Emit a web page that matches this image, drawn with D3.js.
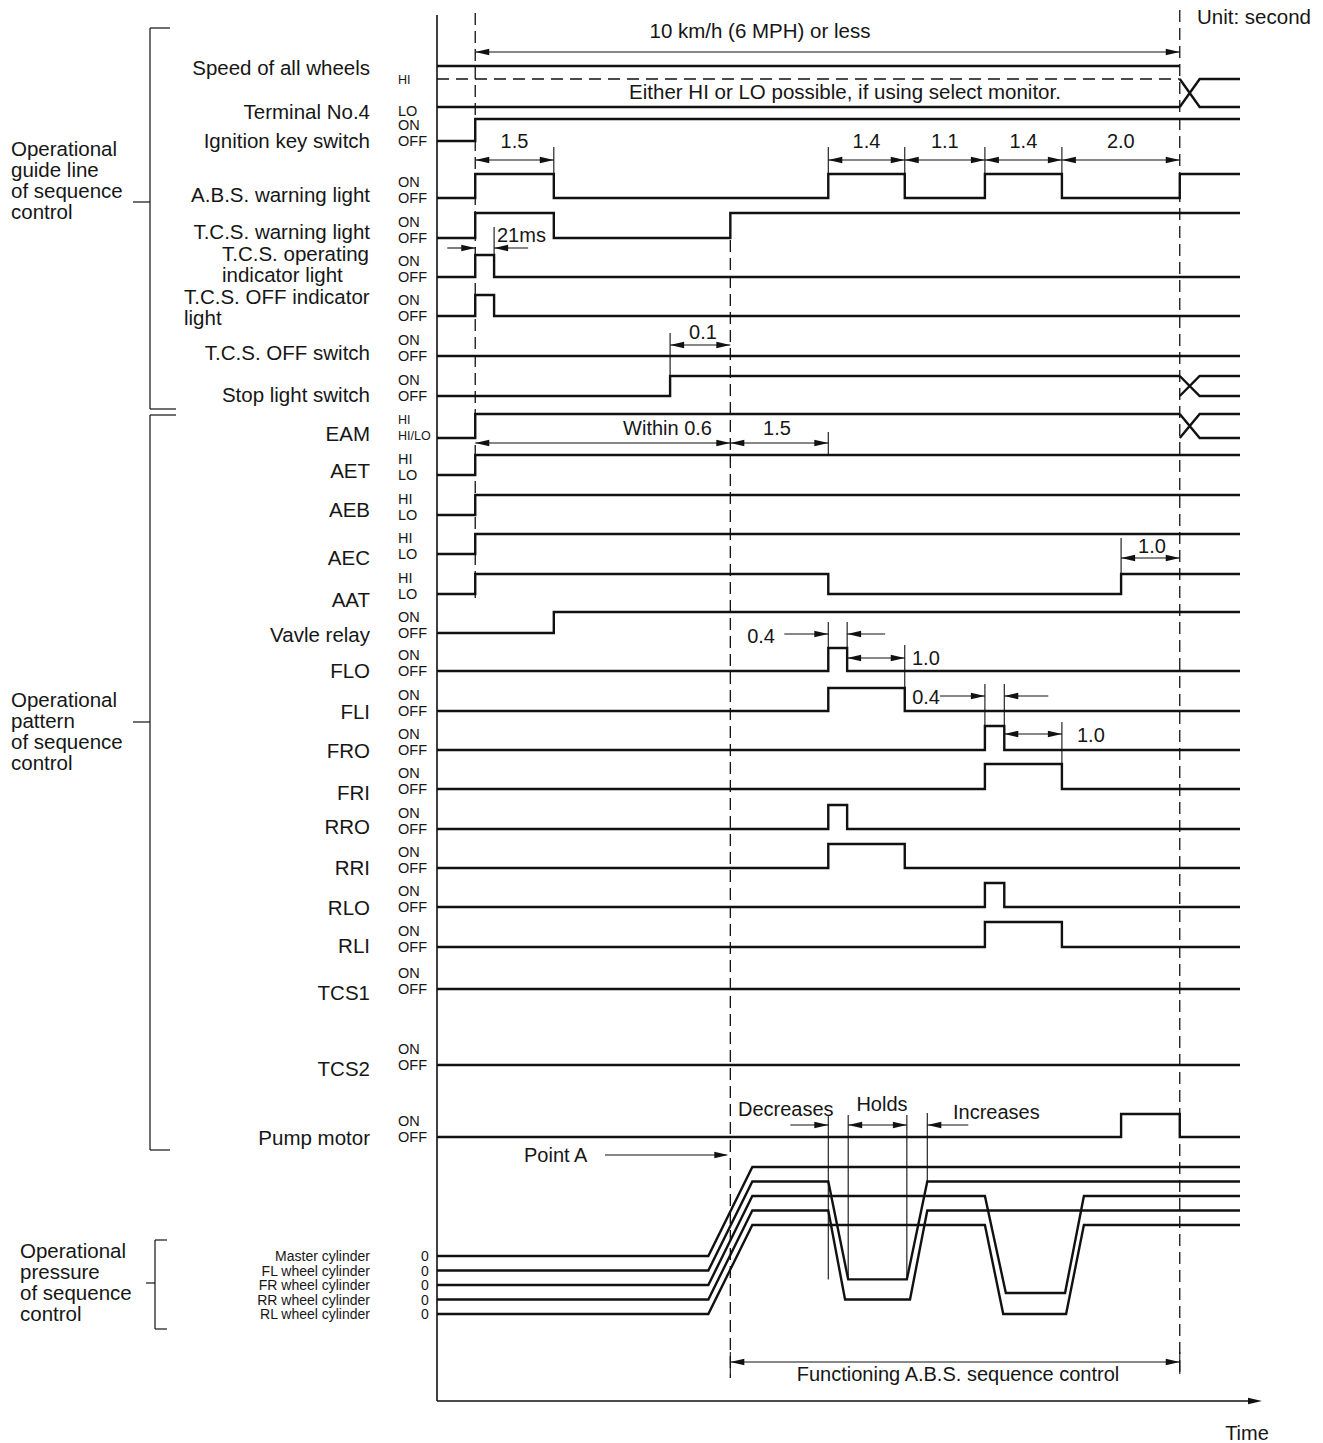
<!DOCTYPE html>
<html>
<head>
<meta charset="utf-8">
<script src="https://cdn.jsdelivr.net/npm/d3@7"></script>
<style>
  body { margin: 0; background: #fff; }
  text { font-family: "Liberation Sans", Arial, sans-serif; fill: #161616; }
</style>
</head>
<body>
<script>
// time is schematic (the drawing is not to scale)
var tStart = -0.73, tEnd = 14.6, tCut = 13.45, tCross = 13.83, tPointA = 4.87;

var rowLabels = ["Ignition key switch", "A.B.S. warning light", "T.C.S. warning light",
  "T.C.S. operating|indicator light", "T.C.S. OFF indicator|light", "T.C.S. OFF switch",
  "Stop light switch", "EAM", "AET", "AEB", "AEC", "AAT", "Vavle relay", "FLO", "FLI",
  "FRO", "FRI", "RRO", "RRI", "RLO", "RLI", "TCS1", "TCS2", "Pump motor"];
var rowStates = [["ON", "OFF"], ["ON", "OFF"], ["ON", "OFF"], ["ON", "OFF"], ["ON", "OFF"],
  ["ON", "OFF"], ["ON", "OFF"], ["HI", "HI/LO"], ["HI", "LO"], ["HI", "LO"], ["HI", "LO"],
  ["HI", "LO"], ["ON", "OFF"], ["ON", "OFF"], ["ON", "OFF"], ["ON", "OFF"], ["ON", "OFF"],
  ["ON", "OFF"], ["ON", "OFF"], ["ON", "OFF"], ["ON", "OFF"], ["ON", "OFF"], ["ON", "OFF"],
  ["ON", "OFF"]];
// times where each signal toggles (all start OFF / LO)
var rowEdges = [[0], [0, 1.5, 6.74, 8.2, 9.73, 11.2, 13.45], [0, 1.5, 4.87], [0, 0.36], [0, 0.36],
  [], [3.72], [0], [0], [0], [0], [0, 6.74, 12.33], [1.5], [6.74, 7.1], [6.74, 8.2],
  [9.73, 10.1], [9.73, 11.2], [6.74, 7.1], [6.74, 8.2], [9.73, 10.1], [9.73, 11.2], [], [],
  [12.33, 13.45]];
// signals that become "either" after the monitor point
var rowCrossed = ["Stop light switch", "EAM"];

var pressureNames = ["Master cylinder", "FL wheel cylinder", "FR wheel cylinder",
  "RR wheel cylinder", "RL wheel cylinder"];
var pressureSeries = [
  [[tStart, 0], [4.45, 0], [5.29, 10], [tEnd, 10]],
  [[tStart, 0], [4.45, 0], [5.29, 10], [6.74, 10], [7.12, -1], [8.24, -1], [8.63, 10], [tEnd, 10]],
  [[tStart, 0], [4.45, 0], [5.29, 10], [9.73, 10], [10.13, -0.9], [11.26, -0.9], [11.62, 10], [tEnd, 10]],
  [[tStart, 0], [4.45, 0], [5.29, 10], [6.74, 10], [7.06, 0], [8.3, 0], [8.63, 10], [tEnd, 10]],
  [[tStart, 0], [4.45, 0], [5.29, 10], [9.73, 10], [10.08, 0], [11.28, 0], [11.62, 10], [tEnd, 10]]
];

// layout of the lanes (OFF level, height of ON step, label centre)
var laneLo = [141, 198, 238, 277, 316, 356, 396, 438, 475, 515, 554, 594, 633, 671, 711, 750,
  789, 829, 868, 907, 947, 989, 1065, 1137];
var laneAmp = [22, 24, 25, 22, 21, 20, 20, 24, 20, 20, 20, 20, 21, 23, 23, 24, 25, 24, 24, 24,
  25, 20, 20, 23];
var labelY = [140, 194, 231, 253, 296, 352, 394, 433, 470, 509, 557, 599, 634, 670, 711, 750,
  792, 826, 867, 907, 945, 992, 1068, 1137];

var w = 1323, h = 1443;
var svg = d3.select("body").append("svg").attr("width", w).attr("height", h);

var x = d3.scaleLinear().domain([tStart, tEnd]).range([437, 1240]);
var pY = d3.scaleLinear().domain([0, 10]).range([0, -89]);
var pBase = d3.scaleLinear().domain([0, pressureNames.length - 1]).range([1256, 1314]);

var ink = "#111";

function line(g, x1, y1, x2, y2, sw, dash) {
  var l = g.append("line").attr("x1", x1).attr("y1", y1).attr("x2", x2).attr("y2", y2)
    .attr("stroke", ink).attr("stroke-width", sw);
  if (dash) l.attr("stroke-dasharray", dash);
  return l;
}
function label(g, tx, ty, str, size, anchor) {
  return g.append("text").attr("x", tx).attr("y", ty).attr("font-size", size)
    .attr("text-anchor", anchor || "start").attr("dominant-baseline", "central").text(str);
}
function head(g, xt, y, dir) {
  g.append("path")
    .attr("d", "M" + xt + "," + y + "L" + (xt - dir * 14) + "," + (y - 3.2) + "L" + (xt - dir * 14) + "," + (y + 3.2) + "Z")
    .attr("fill", ink);
}
// |<---->| arrows inside
function dimIn(g, t1, t2, y) {
  line(g, x(t1), y, x(t2), y, 1.1);
  head(g, x(t1), y, -1);
  head(g, x(t2), y, 1);
}
// -->| |<-- arrows from outside
function dimOut(g, t1, t2, y, l1, l2) {
  line(g, x(t1) - l1, y, x(t1), y, 1.1);
  head(g, x(t1), y, 1);
  line(g, x(t2), y, x(t2) + l2, y, 1.1);
  head(g, x(t2), y, -1);
}
function ext(g, t, y1, y2) { line(g, x(t), y1, x(t), y2, 1.1); }

var guides = svg.append("g");
var marks = svg.append("g");
var notes = svg.append("g");

// axes
line(guides, 437, 15, 437, 1401, 1.6);
line(guides, 437, 1401, 1248, 1401, 1.4);
head(guides, 1262, 1401, 1);
label(notes, 1247, 1433, "Time", 20, "middle");
label(notes, 1197, 16, "Unit: second", 20.5);

// dashed time markers
line(guides, x(0), 13, x(0), 598, 1.3, "12,6");
line(guides, x(tPointA), 240, x(tPointA), 1378, 1.3, "12,6");
line(guides, x(tCut), 10, x(tCut), 1378, 1.3, "12,6");

// speed of all wheels and terminal 4
line(marks, x(tStart), 66, x(tCut), 66, 2.4);
label(notes, 370, 67, "Speed of all wheels", 20.5, "end");
dimIn(notes, 0, tCut, 52);
label(notes, 760, 30, "10 km/h (6 MPH) or less", 20.5, "middle");

line(marks, x(tStart), 79, x(tCut), 79, 1.5, "12,7");
line(marks, x(tStart), 107, x(tCut), 107, 2.4);
label(notes, 845, 91, "Either HI or LO possible, if using select monitor.", 20.5, "middle");
label(notes, 370, 111, "Terminal No.4", 20.5, "end");
label(notes, 398, 80, "HI", 12.5);
label(notes, 398, 111, "LO", 14.5);

function crossAt(hiY, loY) {
  var p = "M" + x(tCut) + "," + hiY + "L" + x(tCross) + "," + loY + "L" + x(tEnd) + "," + loY +
    "M" + x(tCut) + "," + loY + "L" + x(tCross) + "," + hiY + "L" + x(tEnd) + "," + hiY;
  marks.append("path").attr("d", p).attr("fill", "none").attr("stroke", ink).attr("stroke-width", 2.4);
}
crossAt(79, 107);

// digital signals
var step = d3.line().curve(d3.curveStepAfter)
  .x(function(d) { return x(d[0]); })
  .y(function(d) { return d[1]; });

rowLabels.forEach(function(name, i) {
  var lo = laneLo[i], hi = lo - laneAmp[i];
  var crossed = rowCrossed.indexOf(name) >= 0;
  var pts = [[tStart, lo]];
  var on = false;
  rowEdges[i].forEach(function(t) {
    on = !on;
    pts.push([t, on ? hi : lo]);
  });
  pts.push([crossed ? tCut : tEnd, on ? hi : lo]);
  marks.append("path").attr("d", step(pts)).attr("fill", "none")
    .attr("stroke", ink).attr("stroke-width", 2.4);
  if (crossed) crossAt(hi, lo);

  var parts = name.split("|");
  if (parts.length > 1) {
    var lx = name.indexOf("OFF") >= 0 ? 184 : 222;
    label(notes, lx, labelY[i], parts[0], 20.5);
    label(notes, lx, labelY[i] + 21, parts[1], 20.5);
  } else {
    label(notes, 370, labelY[i], name, 20.5, "end");
  }
  var small = rowStates[i][1] === "HI/LO";
  label(notes, 398, lo - (small ? 18 : 16), rowStates[i][0], small ? 12.5 : 14.5);
  label(notes, 398, lo - (small ? 2 : 0), rowStates[i][1], small ? 12.5 : 14.5);
});

// dimensions on the A.B.S. warning light
var absDims = [[0, 1.5, "1.5"], [6.74, 8.2, "1.4"], [8.2, 9.73, "1.1"], [9.73, 11.2, "1.4"], [11.2, 13.45, "2.0"]];
absDims.forEach(function(d) {
  dimIn(notes, d[0], d[1], 160);
  label(notes, (x(d[0]) + x(d[1])) / 2, 141, d[2], 20, "middle");
});
[1.5, 6.74, 8.2, 9.73, 11.2].forEach(function(t) { ext(notes, t, 147, t === 6.74 || t === 9.73 ? 174 : 198); });

// 21ms
dimOut(notes, 0, 0.36, 248, 28, 34);
ext(notes, 0.36, 227, 262);
label(notes, 497, 235, "21ms", 20);

// 0.1
dimIn(notes, 3.72, tPointA, 345);
ext(notes, 3.72, 333, 376);
label(notes, 703, 332, "0.1", 20, "middle");

// within 0.6 / 1.5
dimIn(notes, 0, tPointA, 443);
label(notes, 712, 428, "Within 0.6", 20, "end");
dimIn(notes, tPointA, 6.74, 443);
ext(notes, 6.74, 432, 455);
label(notes, 777, 428, "1.5", 20, "middle");

// AAT 1.0
dimIn(notes, 12.33, tCut, 558);
ext(notes, 12.33, 538, 574);
label(notes, 1152, 546, "1.0", 20, "middle");

// FLO / FLI
dimOut(notes, 6.74, 7.1, 634, 44, 38);
ext(notes, 6.74, 622, 648);
ext(notes, 7.1, 622, 648);
label(notes, 775, 636, "0.4", 20, "end");
dimIn(notes, 7.1, 8.2, 658);
ext(notes, 8.2, 645, 688);
label(notes, 912, 658, "1.0", 20);

// FRO / FRI
dimOut(notes, 9.73, 10.1, 696, 45, 44);
ext(notes, 9.73, 684, 726);
ext(notes, 10.1, 684, 726);
label(notes, 940, 697, "0.4", 20, "end");
dimIn(notes, 10.1, 11.2, 734);
ext(notes, 11.2, 722, 764);
label(notes, 1077, 735, "1.0", 20);

// pressure
var pLine = d3.line()
  .x(function(d) { return x(d[0]); });
pressureSeries.forEach(function(s, i) {
  pLine.y(function(d) { return pBase(i) + pY(d[1]); });
  marks.append("path").attr("d", pLine(s)).attr("fill", "none")
    .attr("stroke", ink).attr("stroke-width", 2.4).attr("stroke-linejoin", "miter");
  label(notes, 370, pBase(i), pressureNames[i], 14, "end");
  label(notes, 425, pBase(i), "0", 14, "middle");
});

// decreases / holds / increases
[6.74, 7.12, 8.24].forEach(function(t) { ext(notes, t, 1115, pBase(1) + pY(-1)); });
ext(notes, 8.63, 1113, pBase(1) + pY(10));
line(notes, x(6.74) - 38, 1125, x(6.74), 1125, 1.1);
head(notes, x(6.74), 1125, 1);
dimIn(notes, 7.12, 8.24, 1125);
line(notes, x(8.63), 1125, x(8.63) + 41, 1125, 1.1);
head(notes, x(8.63), 1125, -1);
label(notes, 738, 1109, "Decreases", 20);
label(notes, 882, 1104, "Holds", 20, "middle");
label(notes, 953, 1112, "Increases", 20);

// point A
line(notes, 605, 1155, x(tPointA) - 4, 1155, 1.1);
head(notes, x(tPointA) - 2, 1155, 1);
label(notes, 524, 1155, "Point A", 20);

// functioning ABS
dimIn(notes, tPointA, tCut, 1362);
ext(notes, tPointA, 1352, 1374);
ext(notes, tCut, 1352, 1374);
label(notes, 958, 1374, "Functioning A.B.S. sequence control", 20, "middle");

// group brackets
function bracket(bx, y1, y2, t1, t2, ym, tm) {
  var g = guides.append("g");
  line(g, bx, y1, bx, y2, 1.2);
  line(g, bx, y1, bx + t1, y1, 1.2);
  line(g, bx, y2, bx + t2, y2, 1.2);
  line(g, bx - tm, ym, bx, ym, 1.2);
}
bracket(150, 28, 409, 20, 26, 202, 17);
bracket(150, 415, 1150, 26, 20, 722, 17);
bracket(155, 1240, 1329, 12, 12, 1283, 9);

function block(bx, by, lines) {
  lines.forEach(function(s, k) { label(notes, bx, by + k * 21, s, 20.5); });
}
block(11, 148, ["Operational", "guide line", "of sequence", "control"]);
block(11, 699, ["Operational", "pattern", "of sequence", "control"]);
block(20, 1250, ["Operational", "pressure", "of sequence", "control"]);
</script>
</body>
</html>
